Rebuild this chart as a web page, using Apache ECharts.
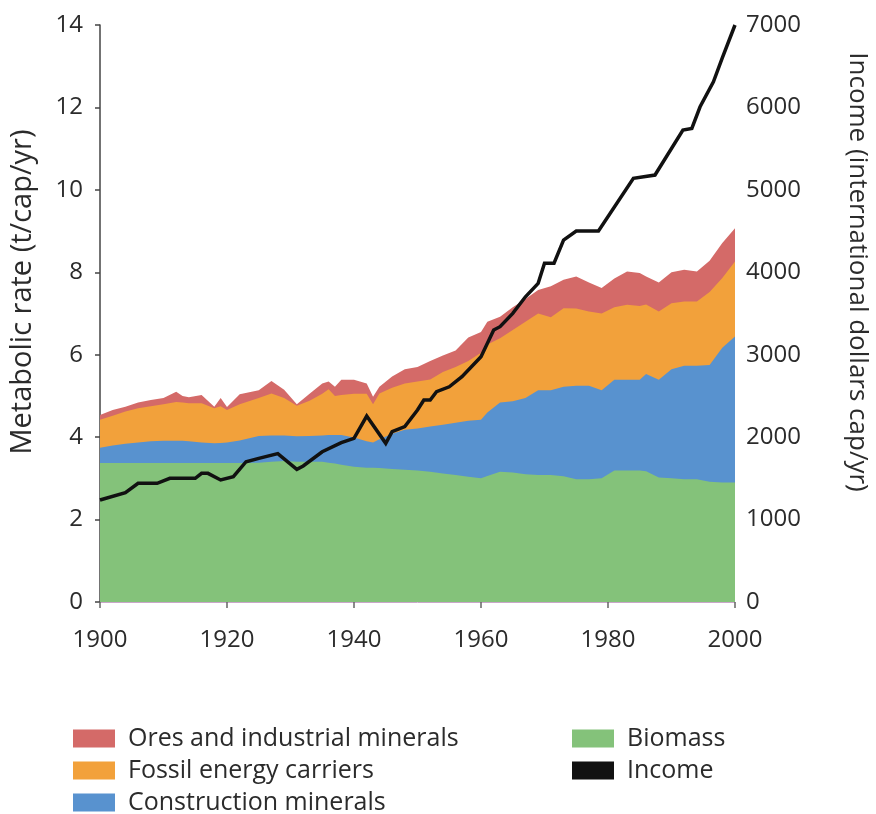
<!DOCTYPE html>
<html>
<head>
<meta charset="utf-8">
<script src="https://cdn.jsdelivr.net/npm/echarts@6/dist/echarts.min.js"></script>
<style>
  html, body { margin: 0; padding: 0; background: #ffffff; }
  #chart { width: 876px; height: 814px; }
</style>
</head>
<body>
<div id="chart"></div>
<script>
// Material flows per capita, by component (t/cap/yr), listed bottom to top
const years = [1900, 1902, 1904, 1906, 1908, 1910, 1912, 1913, 1914, 1916, 1918, 1919, 1920, 1922,
  1925, 1927, 1929, 1931, 1933, 1935, 1936, 1937, 1938, 1940, 1942, 1943, 1944, 1946, 1948, 1950,
  1952, 1954, 1956, 1958, 1960, 1961, 1963, 1965, 1967, 1969, 1971, 1973, 1975, 1977, 1979, 1981,
  1983, 1985, 1986, 1988, 1990, 1992, 1994, 1996, 1998, 2000];

const biomass = [3.37, 3.37, 3.37, 3.37, 3.37, 3.37, 3.37, 3.37, 3.37, 3.37, 3.37, 3.37, 3.37, 3.37,
  3.38, 3.40, 3.42, 3.40, 3.40, 3.40, 3.38, 3.36, 3.33, 3.28, 3.26, 3.26, 3.25, 3.23, 3.21, 3.19,
  3.16, 3.12, 3.08, 3.04, 3.00, 3.06, 3.16, 3.14, 3.10, 3.08, 3.08, 3.05, 2.98, 2.98, 3.00, 3.19,
  3.19, 3.19, 3.17, 3.02, 3.00, 2.98, 2.98, 2.92, 2.90, 2.90];

const construction = [0.37, 0.43, 0.47, 0.50, 0.53, 0.54, 0.54, 0.54, 0.53, 0.50, 0.48, 0.49, 0.50, 0.55,
  0.65, 0.64, 0.62, 0.62, 0.63, 0.64, 0.67, 0.69, 0.72, 0.71, 0.64, 0.61, 0.70, 0.85, 0.97, 1.02,
  1.10, 1.18, 1.27, 1.36, 1.42, 1.54, 1.68, 1.73, 1.85, 2.06, 2.06, 2.17, 2.27, 2.27, 2.14, 2.20,
  2.20, 2.20, 2.36, 2.37, 2.65, 2.75, 2.75, 2.83, 3.27, 3.54];

const fossil = [0.68, 0.72, 0.78, 0.83, 0.85, 0.89, 0.94, 0.93, 0.92, 0.95, 0.85, 0.89, 0.79, 0.88,
  0.92, 1.02, 0.91, 0.74, 0.85, 1.01, 1.11, 0.95, 0.97, 1.06, 1.15, 0.93, 1.11, 1.12, 1.12, 1.14,
  1.14, 1.28, 1.35, 1.45, 1.63, 1.65, 1.56, 1.73, 1.85, 1.86, 1.77, 1.91, 1.87, 1.80, 1.86, 1.76,
  1.82, 1.79, 1.69, 1.66, 1.60, 1.56, 1.56, 1.77, 1.69, 1.82];

const ores = [0.12, 0.14, 0.12, 0.14, 0.15, 0.15, 0.25, 0.16, 0.15, 0.20, 0.04, 0.20, 0.07, 0.24,
  0.19, 0.30, 0.20, 0.04, 0.17, 0.25, 0.19, 0.22, 0.37, 0.34, 0.25, 0.18, 0.16, 0.27, 0.35, 0.35,
  0.45, 0.40, 0.40, 0.57, 0.50, 0.55, 0.52, 0.55, 0.55, 0.57, 0.75, 0.69, 0.78, 0.70, 0.62, 0.70,
  0.81, 0.80, 0.68, 0.70, 0.75, 0.77, 0.73, 0.76, 0.85, 0.81];

// Income per capita (international dollars cap/yr)
const incomeYears = [1900, 1904, 1906, 1909, 1911, 1915, 1916, 1917, 1919, 1921, 1923, 1925, 1928,
  1931, 1932, 1935, 1938, 1940, 1942, 1945, 1946, 1948, 1950, 1951, 1952, 1953, 1955, 1957, 1960,
  1962, 1963, 1965, 1967, 1969, 1970, 1971.5, 1973, 1975, 1978.5, 1984, 1987.4, 1991.8, 1993.2,
  1994.5, 1996.6, 1998, 2000];
const income = [1237, 1326, 1440, 1440, 1500, 1500, 1561, 1561, 1480, 1521, 1702, 1743, 1800,
  1610, 1650, 1823, 1933, 1986, 2256, 1925, 2066, 2127, 2329, 2450, 2450, 2551, 2611, 2733, 2976,
  3300, 3340, 3502, 3703, 3866, 4110, 4110, 4391, 4500, 4500, 5140, 5180, 5725, 5746,
  6008, 6311, 6600, 7000];

const leftTicks = [0, 2, 4, 6, 8, 10, 12, 14];
const rightTicks = [0, 1000, 2000, 3000, 4000, 5000, 6000, 7000];
const xTicks = [1900, 1920, 1940, 1960, 1980, 2000];

const FONT = '"Open Sans", "Liberation Sans", sans-serif';
const TEXT = '#2b2b2b';

// Running totals of the layers: each band is filled from the axis up to its
// own total and painted top layer first, so lower bands sit over the upper ones.
const layers = [
  { name: 'Biomass', values: biomass, color: '#84c27a' },
  { name: 'Construction minerals', values: construction, color: '#5892cf' },
  { name: 'Fossil energy carriers', values: fossil, color: '#f2a13b' },
  { name: 'Ores and industrial minerals', values: ores, color: '#d46a68' }
];
let running = years.map(() => 0);
layers.forEach(layer => {
  running = running.map((s, i) => s + layer.values[i]);
  layer.total = running.slice();
});

const areaSeries = layers.slice().reverse().map(layer => ({
  name: layer.name,
  type: 'line',
  data: years.map((y, i) => [y, +layer.total[i].toFixed(3)]),
  showSymbol: false,
  symbol: 'none',
  lineStyle: { width: 0 },
  itemStyle: { color: layer.color },
  areaStyle: { color: layer.color, opacity: 1, origin: 'start' },
  z: 2
}));

const chart = echarts.init(document.getElementById('chart'), null, { renderer: 'canvas' });

const legendText = { fontFamily: FONT, fontSize: 25, color: TEXT, padding: [0, 0, 0, 8] };

chart.setOption({
  animation: false,
  backgroundColor: '#ffffff',
  textStyle: { fontFamily: FONT },
  grid: { left: 100, right: 141, top: 25, bottom: 212, containLabel: false },
  legend: [
    {
      data: [
        { name: 'Ores and industrial minerals', icon: 'rect' },
        { name: 'Fossil energy carriers', icon: 'rect' },
        { name: 'Construction minerals', icon: 'rect' }
      ],
      orient: 'vertical',
      left: 73, top: 726, height: 120,
      padding: 0,
      itemWidth: 42, itemHeight: 18, itemGap: 7,
      textStyle: legendText
    },
    {
      data: [
        { name: 'Biomass', icon: 'rect' },
        { name: 'Income', icon: 'rect' }
      ],
      orient: 'vertical',
      left: 572, top: 726, height: 120,
      padding: 0,
      itemWidth: 42, itemHeight: 18, itemGap: 7,
      textStyle: legendText
    }
  ],
  xAxis: {
    type: 'value',
    min: xTicks[0], max: xTicks[xTicks.length - 1], interval: 20,
    axisLine: { show: true, lineStyle: { color: '#c9a6c9', width: 1 } },
    axisTick: { show: true, length: 6, lineStyle: { color: '#666', width: 1.5 } },
    axisLabel: { fontSize: 24, color: TEXT, margin: 26, fontFamily: FONT, formatter: v => String(v) },
    splitLine: { show: false }
  },
  yAxis: [
    {
      type: 'value',
      min: leftTicks[0], max: leftTicks[leftTicks.length - 1], interval: 2,
      axisLine: { show: true, lineStyle: { color: '#444', width: 1.5 } },
      axisTick: { show: true, length: 5, lineStyle: { color: '#444', width: 1.5 } },
      axisLabel: { fontSize: 24, color: TEXT, margin: 17, fontFamily: FONT, formatter: v => String(v) },
      splitLine: { show: false }
    },
    {
      type: 'value',
      position: 'right',
      min: rightTicks[0], max: rightTicks[rightTicks.length - 1], interval: 1000,
      axisLine: { show: false },
      axisTick: { show: false },
      axisLabel: { fontSize: 24, color: TEXT, margin: 11, fontFamily: FONT, formatter: v => String(v) },
      splitLine: { show: false }
    }
  ],
  graphic: [
    {
      type: 'text',
      x: 23, y: 292, rotation: Math.PI / 2,
      style: {
        text: 'Metabolic rate (t/cap/yr)',
        font: '29px ' + FONT, fill: TEXT,
        align: 'center', verticalAlign: 'middle'
      }
    },
    {
      type: 'text',
      x: 857, y: 272, rotation: -Math.PI / 2,
      style: {
        text: 'Income (international dollars cap/yr)',
        font: '26px ' + FONT, fill: TEXT,
        align: 'center', verticalAlign: 'middle'
      }
    }
  ],
  series: areaSeries.concat([
    {
      name: 'Income',
      type: 'line',
      yAxisIndex: 1,
      data: incomeYears.map((y, i) => [y, income[i]]),
      showSymbol: false,
      symbol: 'none',
      itemStyle: { color: '#111111' },
      lineStyle: { color: '#111111', width: 3.5, join: 'miter' },
      z: 5
    }
  ])
});
</script>
</body>
</html>
